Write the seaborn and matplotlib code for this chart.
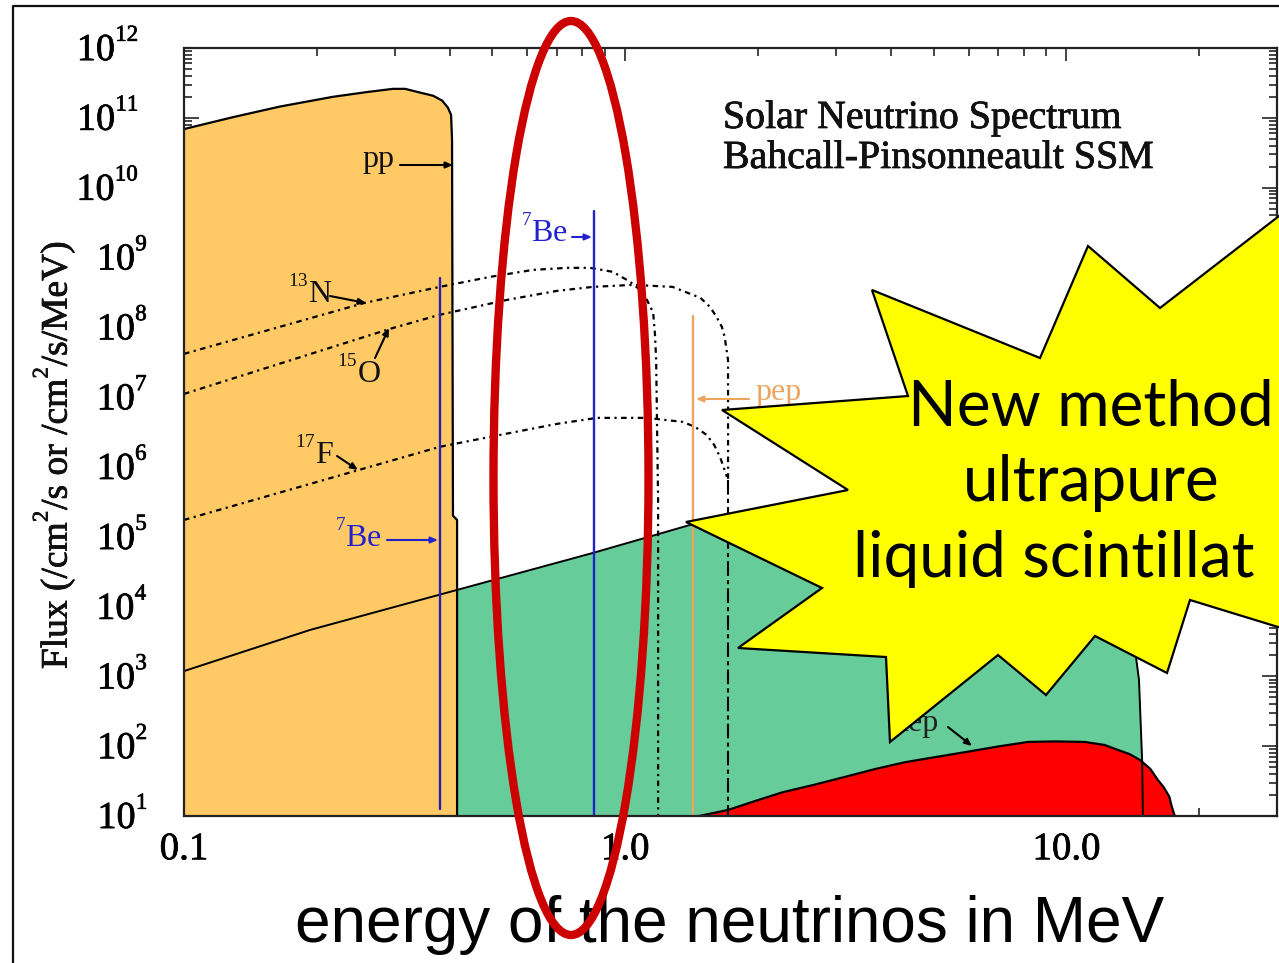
import matplotlib
matplotlib.use("Agg")
import matplotlib.pyplot as plt
import matplotlib._mathtext as _mt
import matplotlib.patheffects as pe
import seaborn as sns
from matplotlib.patches import Polygon, Ellipse
from matplotlib.lines import Line2D
from matplotlib.ticker import LogLocator, NullFormatter, FixedLocator, FixedFormatter
from matplotlib.transforms import ScaledTranslation

# raise and shrink the superscripts a little, as in the reference
_mt.FontConstantsBase.supdrop = -0.35
_mt.FontConstantsBase.sup1 = 1.1
_mt.SHRINK_FACTOR = 0.6

# ---------- data (energy in MeV, flux) ----------
pp_e = [0.1, 0.129, 0.165, 0.2176, 0.26, 0.2976, 0.317, 0.3426, 0.367, 0.3845, 0.3966, 0.403, 0.405, 0.407, 0.4158, 0.4158]
pp_f = [6.9e10, 1.02e11, 1.45e11, 2.0e11, 2.34e11, 2.6e11, 2.6e11, 2.3e11, 2.07e11, 1.77e11, 1.39e11, 1.1e11, 4.84e10, 2e5, 1.74e5, 10]

boron_e = [0.1, 0.193, 0.4158, 0.845, 1.40, 3.15, 5.45, 8.7, 11.9, 13.6, 14.4, 14.6, 14.84, 14.9]
boron_f = [1190, 4620, 17300, 58600, 147000, 439000, 906000, 1.18e6, 6.5e5, 8.9e4, 1720, 890, 63, 10]

hep_e = [1.47, 1.71, 1.97, 2.28, 2.68, 3.13, 3.68, 4.31, 5.06, 5.95, 7.0, 8.18, 9.4, 11.0, 12.2, 13.1, 13.9, 14.7, 15.5, 16.1, 16.6, 17.1, 17.3, 17.6]
hep_f = [10, 12.2, 16.4, 22, 28, 36, 47, 59, 70, 83, 99, 115, 117, 115, 104, 88, 77, 63, 47, 33, 26, 19, 14, 10]

n13_e = [0.1, 0.257, 0.380, 0.494, 0.618, 0.738, 0.832, 0.938, 1.026, 1.08, 1.12, 1.157, 1.168, 1.175, 1.187, 1.187]
n13_f = [4.16e7, 2.24e8, 3.79e8, 5.27e8, 6.64e8, 7.1e8, 7.1e8, 6.22e8, 4.47e8, 3.44e8, 2.47e8, 1.61e8, 7.8e7, 3.4e7, 3.4e5, 10]

o15_e = [0.1, 0.293, 0.380, 0.54, 0.70, 0.845, 1.04, 1.28, 1.48, 1.556, 1.61, 1.656, 1.68, 1.71, 1.71]
o15_f = [1.11e7, 9.5e7, 1.51e8, 2.47e8, 3.32e8, 3.79e8, 4.05e8, 3.79e8, 2.64e8, 1.96e8, 1.41e8, 1.01e8, 7.3e7, 3.4e7, 6.5e5]
o15_tail_e = [1.71, 1.71]
o15_tail_f = [6.5e5, 10]

f17_e = [0.1, 0.380, 0.52, 0.70, 0.863, 1.12, 1.35, 1.44, 1.53, 1.59, 1.64, 1.70]
f17_f = [1.74e5, 1.94e6, 2.87e6, 4.13e6, 5.04e6, 5.04e6, 4.41e6, 3.74e6, 2.87e6, 2.07e6, 1.39e6, 7.2e5]

be_low_e, be_low_top = 0.38, 5.1e8
be_high_e, be_high_top = 0.85, 4.65e9
pep_e, pep_top = 1.425, 1.46e8

y_tick_values = [10.0 ** k for k in range(1, 13)]
y_tick_labels = [r"$10^{%d}$" % k for k in range(1, 13)]
x_tick_values = [0.1, 1.0, 10.0]
x_tick_labels = ["0.1", "1.0", "10.0"]

title_lines = ["Solar Neutrino Spectrum", "Bahcall-Pinsonneault SSM"]
star_lines = ["New method", "ultrapure", "liquid scintillat"]
x_label = "energy of the neutrinos in MeV"
y_label = r"Flux (/cm$^2$/s or /cm$^2$/s/MeV)"

ORANGE = "#FFC966"
GREEN = "#66CC99"
RED = "#FF0000"
BLUE = "#2222CC"
PEP = "#EBA55F"

W, H = 1279, 963
sns.set_theme(style="ticks")
plt.rcParams["font.family"] = ["Liberation Serif", "DejaVu Serif"]
plt.rcParams["mathtext.fontset"] = "custom"
plt.rcParams["mathtext.rm"] = "Liberation Serif"
plt.rcParams["mathtext.default"] = "regular"

fig = plt.figure(figsize=(W / 100, H / 100), dpi=100, facecolor="white")
ax = fig.add_axes([184 / W, 1 - 816 / H, (1277 - 184) / W, (816 - 48) / H])


def fx(x):
    return x / W


def fy(y):
    return 1 - y / H


heavy = [pe.withStroke(linewidth=0.5, foreground="black")]

ax.set_xscale("log")
ax.set_yscale("log")
ax.set_xlim(0.1, 30)
ax.set_ylim(10, 1e12)

ax.fill_between(pp_e, pp_f, 10, color=ORANGE, lw=0, zorder=1)
ax.fill_between(boron_e[2:], boron_f[2:], 10, color=GREEN, lw=0, zorder=1)
ax.fill_between(hep_e, hep_f, 10, color=RED, lw=0, zorder=1.5)


def line(xs, ys, color="black", lw=1.2, dashes=None, z=2):
    a = sns.lineplot(x=xs, y=ys, sort=False, estimator=None, errorbar=None, ax=ax,
                     color=color, lw=lw, zorder=z)
    if dashes is not None:
        a.lines[-1].set_dashes(dashes)


line(pp_e, pp_f, lw=1.6)
line(boron_e, boron_f, lw=1.4)
line(hep_e, hep_f, lw=1.6)
line(n13_e, n13_f, lw=1.6, dashes=(2.5, 2, 1, 2))
line(o15_e, o15_f, lw=1.6, dashes=(2.5, 2, 1, 2))
line(o15_tail_e, o15_tail_f, lw=1.5, dashes=(7, 2, 2, 2))
line(f17_e, f17_f, lw=1.6, dashes=(2.5, 2, 1, 2))
line([be_low_e, be_low_e], [12.5, be_low_top], color="#2A1FB0", lw=1.7, z=3)
line([be_high_e, be_high_e], [10, be_high_top], color=BLUE, lw=1.7, z=3)
line([pep_e, pep_e], [10, pep_top], color=PEP, lw=1.7, z=3)

# ---------- axes furniture ----------
ax.xaxis.set_major_locator(FixedLocator(x_tick_values))
ax.xaxis.set_major_formatter(FixedFormatter(x_tick_labels))
ax.xaxis.set_minor_locator(LogLocator(base=10, subs=range(2, 10), numticks=20))
ax.xaxis.set_minor_formatter(NullFormatter())
ax.yaxis.set_major_locator(FixedLocator(y_tick_values))
ax.yaxis.set_major_formatter(FixedFormatter(y_tick_labels))
ax.yaxis.set_minor_locator(LogLocator(base=10, subs=range(2, 10), numticks=20))
ax.yaxis.set_minor_formatter(NullFormatter())
ax.tick_params(which="both", direction="in", top=True, right=True, width=1.1, color="#111111")
ax.tick_params(axis="y", which="major", length=11, labelsize=27.5, pad=26, labelcolor="black")
ax.tick_params(axis="y", which="minor", length=6)
ax.tick_params(axis="x", which="major", length=9.5, labelsize=28, pad=11, labelcolor="black")
ax.tick_params(axis="x", which="minor", length=5.5)
for s in ax.spines.values():
    s.set_linewidth(1.6)
    s.set_color("#222222")
    s.set_zorder(4)
for v, lab in zip(y_tick_values, ax.get_yticklabels()):
    lab.set_path_effects(heavy)
    dx = -9 / 100 if v >= 1e10 else 0
    lab.set_transform(lab.get_transform() + ScaledTranslation(dx, 3 / 100, fig.dpi_scale_trans))
for lab in ax.get_xticklabels():
    lab.set_path_effects(heavy)

ax.set_xlabel(x_label, family="Liberation Sans", fontsize=46, color="black", va="center")
ax.xaxis.set_label_coords(0.4995, (816 - 925) / 768)
ax.set_ylabel(y_label, fontsize=27, color="#111111", va="center", path_effects=heavy)
ax.yaxis.set_label_coords((54 - 184) / 1093, (816 - 455) / 768)

# ---------- annotations ----------
for txt, y in zip(title_lines, (128, 168)):
    fig.text(fx(723), fy(y), txt, fontsize=28.7, color="#111111", va="baseline", zorder=3, path_effects=heavy)

labels = [
    ("pp", 362, 167, "#111111"),
    (r"$^{13}$N", 288, 303, "#111111"),
    (r"$^{15}$O", 337, 383, "#111111"),
    (r"$^{17}$F", 295, 464, "#111111"),
    (r"$^{7}$Be", 335, 547, BLUE),
    (r"$^{7}$Be", 521, 242, BLUE),
    ("pep", 755, 400, PEP),
    ("hep", 893, 731, "#222222"),
]
for txt, x, y, c in labels:
    fig.text(fx(x), fy(y), txt, fontsize=23, color=c, va="baseline", zorder=3)

arrows = [
    (400, 165, 453, 165, "black"),
    (330, 296, 366, 303, "black"),
    (375, 358, 389, 328, "black"),
    (337, 456, 358, 470, "black"),
    (387, 540, 438, 540, BLUE),
    (572, 237, 592, 237, BLUE),
    (749, 399, 696, 399, PEP),
    (948, 727, 972, 746, "black"),
]
for x0, y0, x1, y1, c in arrows:
    ax.annotate("", xy=(fx(x1), fy(y1)), xytext=(fx(x0), fy(y0)), xycoords="figure fraction",
                textcoords="figure fraction", zorder=3,
                arrowprops=dict(arrowstyle="-|>,head_length=0.35,head_width=0.15", color=c, lw=1.5,
                                shrinkA=0, shrinkB=0))

star_px = [(1279, 216), (1160, 308), (1088, 246), (1040, 358), (872, 290), (908, 396), (722, 410),
           (848, 490), (686, 522), (822, 588), (738, 648), (886, 657), (890, 742), (998, 655),
           (1046, 695), (1095, 636), (1167, 673), (1190, 600), (1278, 627), (1400, 640), (1400, 216)]
fig.add_artist(Polygon([(fx(x), fy(y)) for x, y in star_px], closed=True, transform=fig.transFigure,
                       facecolor="#FFFF00", edgecolor="black", lw=1.6, zorder=6))
for txt, x, y in zip(star_lines, (908, 963, 853), (425, 501, 577)):
    fig.text(fx(x), fy(y), txt, family="Lato", fontsize=46, color="black", va="baseline", zorder=7)

# outer slide frame and red ellipse
fig.add_artist(Line2D([fx(13), fx(13), fx(1279)], [fy(963), fy(6), fy(6)], transform=fig.transFigure,
                      color="#111111", lw=1.6, zorder=6))
fig.add_artist(Ellipse((fx(571), fy(478)), 155 / W, 914 / H, transform=fig.transFigure,
                       facecolor="none", edgecolor="#CC0000", lw=6, zorder=8))

fig.savefig("out.png", dpi=100)
